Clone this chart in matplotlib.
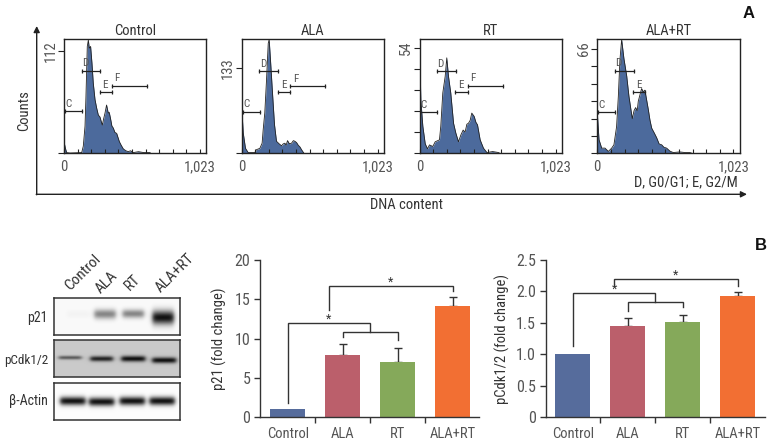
import numpy as np
import matplotlib
matplotlib.use('Agg')
import matplotlib.pyplot as plt

W, H = 772, 444
DARK = '#333333'
GREY = '#555555'
plt.rcParams['font.family'] = ['Roboto Condensed', 'Archivo Narrow', 'Liberation Sans', 'DejaVu Sans']
plt.rcParams['text.color'] = DARK
plt.rcParams['axes.labelcolor'] = DARK

# flow cytometry histograms: channel, counts
ctrl_ch = [0, 10, 20, 45, 133, 145, 158, 165, 175, 183, 190, 200, 210, 220, 233, 245, 258, 270, 288, 298, 308, 320, 333, 340, 350, 360, 370, 383, 396, 416, 430, 446, 465, 484, 500, 521, 560, 600, 647, 652]
ctrl_ct = [13, 6, 1, 0.5, 1, 8, 30, 62, 117, 124, 115, 117, 99, 77, 59, 50, 42, 40, 31, 38, 44, 53, 44, 45, 38, 30, 28, 23, 22, 13, 9, 5, 3, 2, 3, 1, 2, 1, 1, 0]
ala_ch = [0, 13, 30, 50, 100, 113, 138, 155, 163, 175, 188, 201, 208, 218, 233, 248, 263, 283, 301, 314, 326, 336, 346, 360, 376, 390, 401, 414, 426, 440, 451, 469]
ala_ct = [78, 32, 8, 1.5, 1.5, 6, 8, 16, 37, 63, 114, 171, 177, 145, 94, 45, 19, 15, 12, 15, 16, 13, 20, 15, 16, 20, 19, 17, 13, 10, 6, 0.5]
rt_ch = [0, 10, 25, 43, 60, 75, 100, 118, 150, 160, 175, 193, 205, 218, 235, 256, 273, 293, 311, 328, 343, 356, 368, 381, 393, 411, 424, 436, 456, 481, 507, 550, 594, 606]
rt_ct = [58, 27.5, 14, 5, 2.4, 4.4, 3.6, 6, 7, 14, 31, 39.5, 49, 39.5, 31, 15.5, 10.5, 6, 9.5, 12, 11, 15, 15.5, 17, 20.7, 19, 16, 14.7, 7, 2.7, 0.5, 1, 0.5, 0]
combo_ch = [0, 13, 33, 58, 83, 108, 125, 145, 158, 170, 183, 200, 221, 238, 263, 276, 288, 300, 308, 333, 345, 358, 383, 396, 409, 428, 446, 465, 484, 500, 521, 546, 571, 620, 660, 696, 717]
combo_ct = [25.5, 8.7, 3.4, 3.4, 1.3, 3.4, 5.5, 17, 36, 59, 72, 60, 49, 36, 22, 27, 29, 27, 33, 41, 39, 40, 28, 21, 16, 13, 10, 6, 5.5, 4, 3.4, 1.5, 0.6, 1, 0.6, 0.6, 0]

hist_titles = ['Control', 'ALA', 'RT', 'ALA+RT']
hist_peak_labels = [112, 133, 54, 66]
hist_tops = [124.6, 177, 58.4, 72]
hist_yticks = [[112], [133], [10.8, 21.6, 32.4, 43.2, 54], [11, 22, 33, 44, 55, 66]]

# gates: label, start channel, end channel, height as a share of the panel
gates = [
    [('C', 5, 135, 0.371), ('D', 133, 273, 0.728), ('E', 268, 363, 0.541), ('F', 358, 624, 0.596)],
    [('C', 8, 140, 0.368), ('D', 133, 278, 0.725), ('E', 273, 368, 0.54), ('F', 363, 629, 0.59)],
    [('C', 0, 135, 0.365), ('D', 130, 273, 0.725), ('E', 268, 361, 0.54), ('F', 361, 629, 0.595)],
    [('C', 5, 135, 0.365), ('D', 130, 273, 0.728), ('E', 268, 361, 0.54)],
]

# bar charts
groups = ['Control', 'ALA', 'RT', 'ALA+RT']
bar_colors = ['#566c9c', '#bb5f6b', '#85a95a', '#f26f33']
p21_vals = [1, 7.9, 7.05, 14.15]
p21_errs = [0, 1.4, 1.8, 1.1]
cdk_vals = [1.0, 1.45, 1.51, 1.92]
cdk_errs = [0, 0.13, 0.11, 0.07]

# blots: lane position, band height, half width, thickness, strength
p21_bands = [(0.19, 0.45, 0.09, 0.08, 0.03), (0.405, 0.45, 0.085, 0.09, 0.5), (0.63, 0.44, 0.085, 0.08, 0.5), (0.868, 0.54, 0.085, 0.13, 1.0)]
cdk_bands = [(0.127, 0.49, 0.09, 0.035, 0.6), (0.378, 0.52, 0.09, 0.05, 0.9), (0.63, 0.52, 0.095, 0.055, 1.0), (0.876, 0.56, 0.095, 0.055, 1.0)]
actin_bands = [(0.148, 0.5, 0.1, 0.08, 1.0), (0.378, 0.52, 0.1, 0.08, 1.0), (0.622, 0.5, 0.1, 0.08, 1.0), (0.86, 0.5, 0.1, 0.08, 1.0)]

fig = plt.figure(figsize=(W / 100, H / 100), dpi=100)


def px_axes(left, top, right, bottom, **kw):
    return fig.add_axes([left / W, 1 - bottom / H, (right - left) / W, (bottom - top) / H], **kw)


# overlay in picture pixels for the loose labels and big arrows
page = px_axes(0, 0, W, H)
page.set_xlim(0, W)
page.set_ylim(H, 0)
page.axis('off')
page.set_zorder(5)

page.annotate('', xy=(36.7, 26), xytext=(36.7, 194.8), arrowprops=dict(arrowstyle='-|>', color='#222222', lw=1, shrinkA=0, shrinkB=0, mutation_scale=9))
page.annotate('', xy=(747, 194.3), xytext=(36.2, 194.3), arrowprops=dict(arrowstyle='-|>', color='#222222', lw=1, shrinkA=0, shrinkB=0, mutation_scale=9))
page.text(24, 111, 'Counts', rotation=90, ha='center', va='center', fontsize=10.5)
page.text(407, 205, 'DNA content', ha='center', va='center', fontsize=10.5)
page.text(686, 182, 'D, G0/G1; E, G2/M', ha='center', va='center', fontsize=10.5)
page.text(749, 13, 'A', ha='center', va='center', fontsize=12, fontweight='bold', family='Liberation Sans', color='#111111')
page.text(761, 245, 'B', ha='center', va='center', fontsize=12, fontweight='bold', family='Liberation Sans', color='#111111')

# histograms
hist_lefts = [64, 241.5, 419.5, 597.3]
hist_data = [(ctrl_ch, ctrl_ct), (ala_ch, ala_ct), (rt_ch, rt_ct), (combo_ch, combo_ct)]
for i, (ch, ct) in enumerate(hist_data):
    left = hist_lefts[i]
    ax = px_axes(left, 39.5, left + 142.2, 153.5)
    ax.fill_between(ch, ct, 0, color='#4c6a9c', lw=0)
    ax.plot(ch, ct, color='#222222', lw=0.6)
    ax.set_xlim(0, 1069)
    ax.set_ylim(0, hist_tops[i])
    for s in ax.spines.values():
        s.set_color('#222222')
        s.set_linewidth(1)
    ax.set_xticks(np.arange(0, 1024, 102.3))
    ax.set_xticklabels([])
    ax.tick_params(axis='x', direction='in', length=3, width=0.8, color='#222222')
    ax.set_yticks([0] + hist_yticks[i])
    ax.set_yticklabels([])
    ax.tick_params(axis='y', direction='out', length=4, width=0.8, color='#222222')
    ax.text(0, -0.12, '0', transform=ax.get_xaxis_transform(), ha='center', va='center', fontsize=10.5, color=GREY)
    ax.text(1023, -0.12, '1,023', transform=ax.get_xaxis_transform(), ha='center', va='center', fontsize=10.5, color=GREY)
    ax.text(-0.095, hist_yticks[i][-1], str(hist_peak_labels[i]), transform=ax.get_yaxis_transform(), rotation=90, ha='center', va='center', fontsize=10.5, color=GREY)
    ax.set_title(hist_titles[i], fontsize=10.5, pad=3)
    for name, c0, c1, frac in gates[i]:
        y = frac * hist_tops[i]
        ax.plot([c0, c1], [y, y], color='#222222', lw=0.9, marker='|', ms=3, mew=0.9)
        offset = 28 if name in 'CD' else 42
        ax.text(c0 + offset, y + 0.02 * hist_tops[i], name, ha='center', va='bottom', fontsize=8, color=GREY)


# western blots
def draw_blot(top, bottom, background, bands):
    ax = px_axes(54, top, 180, bottom)
    xx, yy = np.meshgrid(np.linspace(0, 1, 252), np.linspace(0, 1, 76))
    dark = np.zeros_like(xx)
    for x0, y0, half, thick, strength in bands:
        edge = 0.02
        across = 0.5 * (np.tanh((xx - x0 + half) / edge) - np.tanh((xx - x0 - half) / edge))
        dark += strength * across * np.exp(-(yy - y0) ** 2 / (2 * thick ** 2))
    grey = background * (1 - 0.93 * np.clip(dark, 0, 1))
    ax.imshow(grey, cmap='gray', vmin=0, vmax=1, extent=(0, 1, 1, 0), aspect='auto', interpolation='bilinear')
    ax.set_xticks([])
    ax.set_yticks([])
    for s in ax.spines.values():
        s.set_color('#333333')
        s.set_linewidth(1.1)


draw_blot(297.7, 335, 0.98, p21_bands)
draw_blot(340, 377.3, 0.79, cdk_bands)
draw_blot(382.7, 420.3, 0.99, actin_bands)
page.text(48, 318, 'p21', ha='right', va='center', fontsize=10)
page.text(48, 360, 'pCdk1/2', ha='right', va='center', fontsize=9.5)
page.text(48, 401, 'β-Actin', ha='right', va='center', fontsize=10)
lane_x = [83, 107, 133, 175]
lane_y = [273, 282, 283, 273]
for name, lx, ly in zip(groups, lane_x, lane_y):
    page.text(lx, ly, name, rotation=45, ha='center', va='center', fontsize=11, rotation_mode='anchor')


# bar charts
def draw_bars(box, vals, errs, ymax, yticks, yticklabels, ylabel, lines, stars, ylabel_x):
    ax = px_axes(*box)
    xr = (box[2] - box[0]) / 55
    x0 = -0.506 if ymax == 20 else -0.494
    ax.bar(range(4), vals, width=0.636, color=bar_colors, zorder=2)
    for k in range(1, 4):
        ax.errorbar(k, vals[k], yerr=[[0], [errs[k]]], color='#333333', lw=1, capsize=3.2, capthick=1, zorder=1)
    ax.set_xlim(x0, x0 + xr)
    ax.set_ylim(0, ymax)
    ax.spines['top'].set_visible(False)
    ax.spines['right'].set_visible(False)
    for s in ('left', 'bottom'):
        ax.spines[s].set_color('#333333')
        ax.spines[s].set_linewidth(1)
    ax.set_xticks(range(4))
    ax.set_xticklabels(groups, fontsize=10.5, color=GREY)
    ax.tick_params(axis='x', which='major', length=0, pad=7)
    ax.set_xticks([0.5, 1.5, 2.5], minor=True)
    ax.tick_params(axis='x', which='minor', length=4, width=1, color='#333333')
    ax.set_yticks(yticks)
    ax.set_yticklabels(yticklabels, fontsize=11.5, color=GREY)
    ax.tick_params(axis='y', length=4, width=1, color='#333333', pad=3)
    ax.set_ylabel(ylabel, fontsize=10.5)
    ax.yaxis.set_label_coords(ylabel_x, 0.5)
    for xs, ys in lines:
        ax.plot(xs, ys, color='#333333', lw=1, solid_joinstyle='miter', zorder=3)
    for sx, sy in stars:
        ax.text(sx, sy, '*', ha='center', va='center', fontsize=9)


p21_lines = [
    ([0, 0, 1.5, 1.5], [1.8, 12.0, 12.0, 10.9]),
    ([1, 1, 2, 2], [10.2, 10.9, 10.9, 9.8]),
    ([0.74, 0.74, 3, 3], [13.7, 16.7, 16.7, 16.0]),
]
cdk_lines = [
    ([0, 0, 1.5, 1.5], [1.13, 1.975, 1.975, 1.83]),
    ([1, 1, 2, 2], [1.695, 1.83, 1.83, 1.76]),
    ([0.75, 0.75, 3, 3], [2.09, 2.2, 2.2, 2.09]),
]
draw_bars((260, 260, 479.3, 417.3), p21_vals, p21_errs, 20, [0, 5, 10, 15, 20], ['0', '5', '10', '15', '20'],
          'p21 (fold change)', p21_lines, [(0.74, 12.5), (1.86, 17.2)], -0.152)
draw_bars((545.7, 260, 765, 417.3), cdk_vals, cdk_errs, 2.5, [0, 0.5, 1.0, 1.5, 2.0, 2.5], ['0', '0.5', '1.0', '1.5', '2.0', '2.5'],
          'pCdk1/2 (fold change)', cdk_lines, [(0.75, 2.03), (1.86, 2.26)], -0.163)

fig.savefig('out.png', dpi=100)
